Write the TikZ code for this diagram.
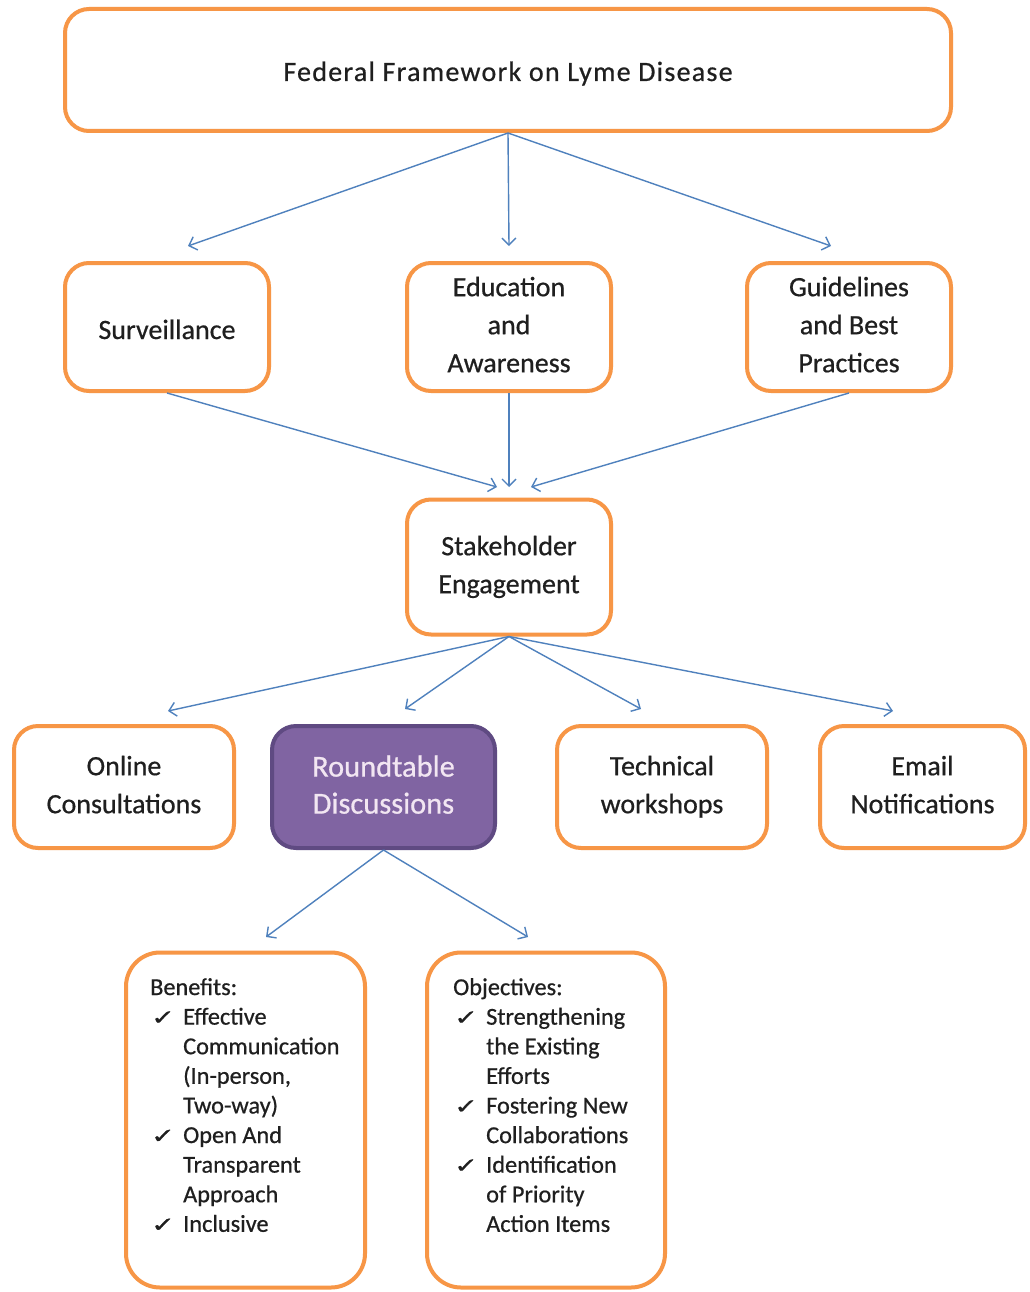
\documentclass[tikz,border=0pt]{standalone}
\usepackage{fontspec}
\setmainfont[FakeBold=0.6]{Carlito}
\newfontfamily\symfont[FakeBold=0.8]{DejaVu Sans}
\newfontfamily\titlefont[LetterSpace=4.5,FakeBold=0.6]{Carlito}
\usetikzlibrary{arrows.meta}
\definecolor{borange}{HTML}{F79646}
\definecolor{ablue}{HTML}{4F81BD}
\definecolor{rtfill}{HTML}{8064A2}
\definecolor{rtedge}{HTML}{5F4A82}
\definecolor{rttext}{HTML}{F2E6F2}
\newcommand{\ck}{\makebox[33pt][l]{\hspace*{1pt}\scalebox{1.35}[1]{\symfont\fontsize{21}{22}\selectfont ✓}}}
\newcommand{\ind}{\hspace*{33pt}}
\newcommand{\tstrut}{\rule[-5pt]{0pt}{34pt}}
\newcommand{\tstrutb}{\rule[-7pt]{0pt}{32pt}}
\tikzset{
  box/.style={draw=borange, line width=4pt, rounded corners=24pt, fill=white,
    align=center, font=\fontsize{28}{38}\selectfont, text=black!88, inner sep=0pt,
    execute at begin node=\tstrut, execute at end node=\tstrut},
  titlebox/.style={box, execute at begin node=\tstrutb, execute at end node=\tstrutb},
  hbox/.style={box, draw=rtedge, fill=rtfill, text=rttext, font=\fontsize{30.5}{37}\selectfont},
  listbox/.style={draw=borange, line width=4pt, rounded corners=34pt},
  listtext/.style={align=left, anchor=north west, inner sep=0pt,
    font=\fontsize{24.3}{29.6}\selectfont, text=black!88},
  arr/.style={draw=ablue, line width=1.4pt, -{Straight Barb[length=7pt,width=14pt,line width=1.4pt]}}
}
\begin{document}
\begin{tikzpicture}[x=1pt,y=-1pt]
\useasboundingbox[fill=white] (0,0) rectangle (1029,1292);
\node[titlebox, minimum width=886pt, minimum height=122pt] (top) at (508,70) {\titlefont Federal Framework on Lyme Disease};
\node[box, minimum width=204pt, minimum height=128pt] (surv) at (167,327) {Surveillance};
\node[box, minimum width=204pt, minimum height=128pt] (edu) at (509,327) {Education\\and\\Awareness};
\node[box, minimum width=204pt, minimum height=128pt] (guide) at (849,327) {Guidelines\\and Best\\Practices};
\node[box, minimum width=204pt, minimum height=135pt] (stake) at (509,567) {Stakeholder\\Engagement};
\node[box, minimum width=220pt, minimum height=122pt] (online) at (124,787) {Online\\Consultations};
\node[hbox, minimum width=223pt, minimum height=122pt] (round) at (383.5,787) {Roundtable\\Discussions};
\node[box, minimum width=210pt, minimum height=122pt] (tech) at (662,787) {Technical\\workshops};
\node[box, minimum width=205pt, minimum height=122pt] (email) at (922.5,787) {Email\\Notifications};
\node[listbox, minimum width=239pt, minimum height=335pt] (ben) at (245.5,1120) {};
\node[listbox, minimum width=238pt, minimum height=335pt] (obj) at (546,1120) {};
\node[listtext] (bentext) at (150,978) {Benefits:\\
\ck Effective\\
\ind Communication\\
\ind (In-person,\\
\ind Two-way)\\
\ck Open And\\
\ind Transparent\\
\ind Approach\\
\ck Inclusive};
\node[listtext] (objtext) at (453,978) {Objectives:\\
\ck Strengthening\\
\ind the Existing\\
\ind Efforts\\
\ck Fostering New\\
\ind Collaborations\\
\ck Identification\\
\ind of Priority\\
\ind Action Items};
% arrow tip coordinates
\coordinate (a1) at (188,246);
\coordinate (a2) at (509,246);
\coordinate (a3) at (831,246);
\coordinate (b1) at (497,487);
\coordinate (b2) at (509,487);
\coordinate (b3) at (531,487);
\coordinate (c1) at (168,711);
\coordinate (c2) at (405,709);
\coordinate (c3) at (641,709);
\coordinate (c4) at (893,711);
\coordinate (d1) at (266,937);
\coordinate (d2) at (528,937);
\draw[arr] (top.south) -- (a1);
\draw[arr] (top.south) -- (a2);
\draw[arr] (top.south) -- (a3);
\draw[arr] (surv.south) -- (b1);
\draw[arr] (edu.south) -- (b2);
\draw[arr] (guide.south) -- (b3);
\draw[arr] (stake.south) -- (c1);
\draw[arr] (stake.south) -- (c2);
\draw[arr] (stake.south) -- (c3);
\draw[arr] (stake.south) -- (c4);
\draw[arr] (round.south) -- (d1);
\draw[arr] (round.south) -- (d2);
\end{tikzpicture}
\end{document}
